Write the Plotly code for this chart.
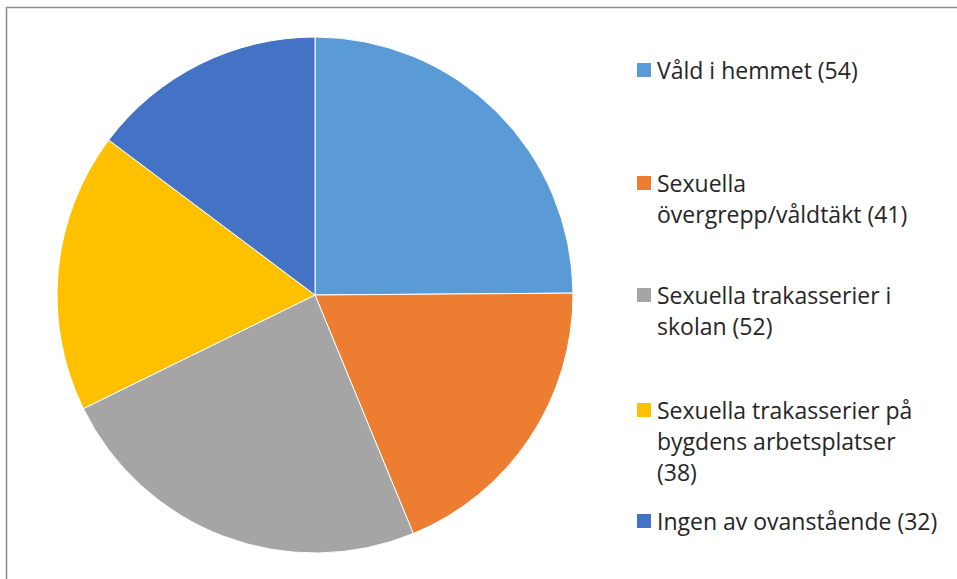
import plotly.graph_objects as go

labels = ["Våld i hemmet (54)", "Sexuella övergrepp/våldtäkt (41)",
          "Sexuella trakasserier i skolan (52)",
          "Sexuella trakasserier på bygdens arbetsplatser (38)",
          "Ingen av ovanstående (32)"]
legend_lines = [["Våld i hemmet (54)"],
                ["Sexuella", "övergrepp/våldtäkt (41)"],
                ["Sexuella trakasserier i", "skolan (52)"],
                ["Sexuella trakasserier på", "bygdens arbetsplatser", "(38)"],
                ["Ingen av ovanstående (32)"]]
values = [54, 41, 52, 38, 32]
colors = ["#5B9BD5", "#ED7D31", "#A5A5A5", "#FFC000", "#4472C4"]

W, H = 957, 579
# legend first-line center y (pixels from top)
legend_y = [70, 183, 295, 410, 521]
LINE = 31

fig = go.Figure(go.Pie(
    labels=labels, values=values, sort=False, direction="clockwise",
    rotation=0, textinfo="none", hoverinfo="label+value",
    marker=dict(colors=colors, line=dict(color="white", width=1)),
    domain=dict(x=[57 / W, 573 / W], y=[1 - 553 / H, 1 - 37 / H]),
    showlegend=False,
))

shapes = [dict(type="rect", xref="paper", yref="paper",
               x0=6.5 / W, x1=1.2, y0=-0.2, y1=1 - 7.5 / H,
               line=dict(color="#8c8c8c", width=1.5), fillcolor="rgba(0,0,0,0)")]
annotations = []
for lines, c, yc in zip(legend_lines, colors, legend_y):
    shapes.append(dict(type="rect", xref="paper", yref="paper",
                       x0=637 / W, x1=651 / W, y0=1 - (yc + 7) / H, y1=1 - (yc - 7) / H,
                       line=dict(width=0), fillcolor=c))
    for i, ln in enumerate(lines):
        annotations.append(dict(text=ln, xref="paper", yref="paper",
                                x=655 / W, y=1 - (yc + i * LINE) / H,
                                xanchor="left", yanchor="middle", align="left",
                                showarrow=False,
                                font=dict(family="Open Sans", size=23, color="#262626")))

fig.update_layout(width=W, height=H, margin=dict(l=0, r=0, t=0, b=0),
                  paper_bgcolor="white", plot_bgcolor="white",
                  shapes=shapes, annotations=annotations)
fig.write_html("out.html", config={"displayModeBar": False},
               post_script="document.body.style.margin='0';document.body.style.overflow='hidden';")
